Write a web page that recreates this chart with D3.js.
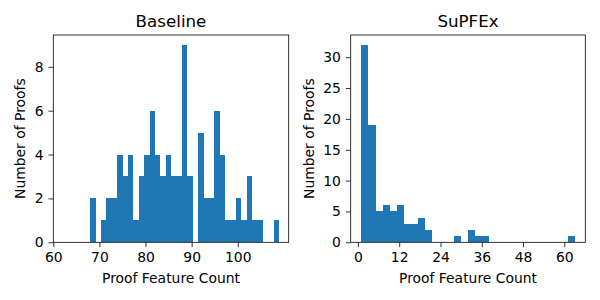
<!DOCTYPE html>
<html>
<head>
<meta charset="utf-8">
<script src="https://cdn.jsdelivr.net/npm/d3@7"></script>
<style>
    body { margin: 0; background: #fff; }
    text { font-family: "DejaVu Sans", sans-serif; fill: #000; }
</style>
</head>
<body>
<div class="hist-container"></div>
<script>
// counts per bin
let baselineCounts = [2, 0, 1, 2, 2, 4, 3, 4, 1, 3, 4, 6, 4, 3, 4, 3, 3, 9, 3, 0, 5, 2, 2, 6, 4, 1, 1, 2, 1, 3, 1, 1, 0, 0, 1];
let baselineRange = [68, 109];
let baselineXTicks = [60, 70, 80, 90, 100];
let baselineYTicks = [0, 2, 4, 6, 8];

let supfexCounts = [32, 19, 5, 6, 5, 6, 3, 3, 4, 2, 0, 0, 0, 1, 0, 2, 1, 1, 0, 0, 0, 0, 0, 0, 0, 0, 0, 0, 0, 1];
let supfexRange = [1, 63];
let supfexXTicks = [0, 12, 24, 36, 48, 60];
let supfexYTicks = [0, 5, 10, 15, 20, 25, 30];

let titles = ["Baseline", "SuPFEx"];
let xLabel = "Proof Feature Count";
let yLabel = "Number of Proofs";

var svg = d3.select(".hist-container")
    .append("svg")
    .attr("width", 600)
    .attr("height", 300);

var top_ = 35, bottom_ = 242.3;

function DrawHist(counts, range, xTicks, yTicks, title, left, right, ylabX) {
    let n = counts.length;
    let w = (range[1] - range[0]) / n;

    let margin = (range[1] - range[0]) * 0.05;
    let xMin = Math.min(d3.min(xTicks), range[0] - margin);
    let xMax = Math.max(d3.max(xTicks), range[1] + margin);

    var xScale = d3.scaleLinear()
        .domain([xMin, xMax])
        .range([left, right]);

    var yScale = d3.scaleLinear()
        .domain([0, d3.max(counts) * 1.05])
        .range([bottom_, top_]);

    let g = svg.append("g");

    let bins = counts.map((d, i) => ({c: d, x0: range[0] + i * w, x1: range[0] + (i + 1) * w}))
        .filter(d => d.c > 0);

    g.selectAll(".bar")
        .data(bins)
        .enter()
        .append("rect")
        .attr("class", "bar")
        .attr("x", d => xScale(d.x0))
        .attr("width", d => xScale(d.x1) - xScale(d.x0))
        .attr("y", d => yScale(d.c))
        .attr("height", d => yScale(0) - yScale(d.c))
        .attr("fill", "#1f77b4")
        .attr("shape-rendering", "crispEdges");

    var xAxis = d3.axisBottom(xScale)
        .tickValues(xTicks)
        .tickSize(4.86)
        .tickPadding(4.9);

    var yAxis = d3.axisLeft(yScale)
        .tickValues(yTicks)
        .tickSize(4.86)
        .tickPadding(4.9);

    let gx = g.append("g")
        .attr("transform", "translate(0," + bottom_ + ")")
        .call(xAxis);
    let gy = g.append("g")
        .attr("transform", "translate(" + left + ",0)")
        .call(yAxis);

    [gx, gy].forEach(a => {
        a.select(".domain").remove();
        a.attr("font-family", null).attr("font-size", null);
        a.selectAll("line").attr("stroke", "#000").attr("stroke-width", 0.8);
        a.selectAll("text").style("font-size", "13.9px");
    });

    // spines
    g.append("rect")
        .attr("x", left)
        .attr("y", top_)
        .attr("width", right - left)
        .attr("height", bottom_ - top_)
        .attr("fill", "none")
        .attr("stroke", "#000")
        .attr("stroke-width", 0.8);

    g.append("text")
        .attr("x", (left + right) / 2)
        .attr("y", 26.7)
        .attr("text-anchor", "middle")
        .style("font-size", "16.7px")
        .text(title);

    g.append("text")
        .attr("x", (left + right) / 2)
        .attr("y", 283)
        .attr("text-anchor", "middle")
        .style("font-size", "13.9px")
        .text(xLabel);

    g.append("text")
        .attr("transform", "translate(" + ylabX + "," + ((top_ + bottom_) / 2) + ") rotate(-90)")
        .attr("text-anchor", "middle")
        .style("font-size", "13.9px")
        .text(yLabel);
}

DrawHist(baselineCounts, baselineRange, baselineXTicks, baselineYTicks, titles[0], 53.3, 288.7, 25);
DrawHist(supfexCounts, supfexRange, supfexXTicks, supfexYTicks, titles[1], 350.7, 585.3, 314);
</script>
</body>
</html>
